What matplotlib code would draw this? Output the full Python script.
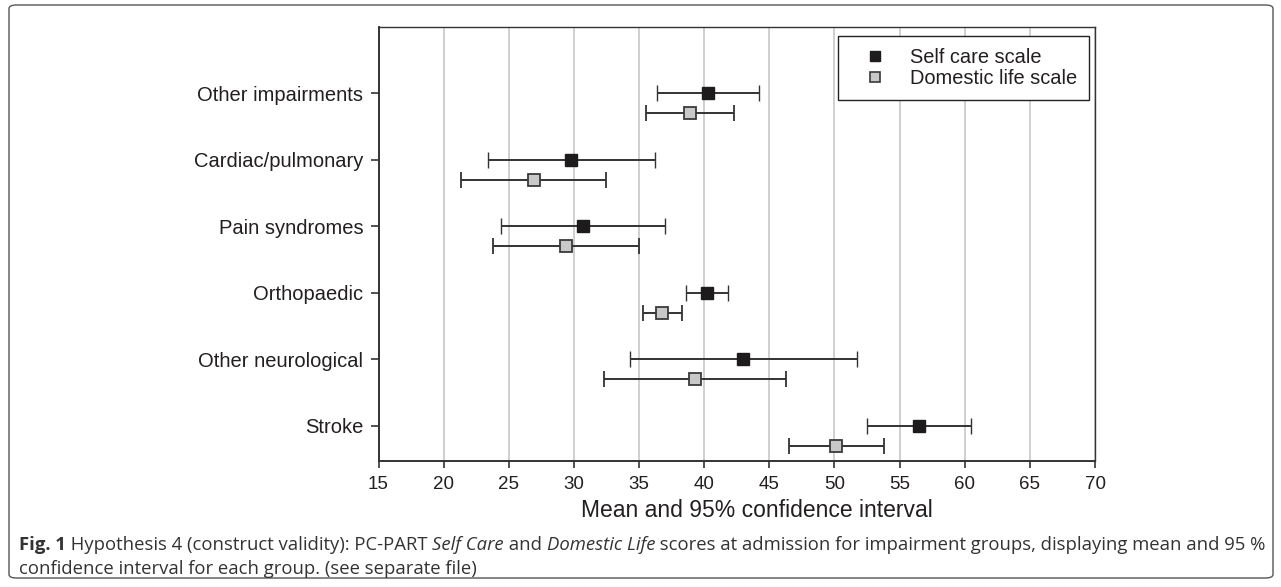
import numpy as np
import matplotlib
matplotlib.use("Agg")
import matplotlib.pyplot as plt
from matplotlib.lines import Line2D
from matplotlib.patches import FancyBboxPatch

# Данные (снизу вверх по оси y)
categories = ["Stroke", "Other neurological", "Orthopaedic",
              "Pain syndromes", "Cardiac/pulmonary", "Other impairments"]
self_mean = [56.5, 43.0, 40.2, 30.7, 29.8, 40.3]
self_lo = [52.5, 34.3, 38.6, 24.4, 23.4, 36.4]
self_hi = [60.5, 51.7, 41.8, 37.0, 36.2, 44.2]
dom_mean = [50.1, 39.3, 36.8, 29.4, 26.9, 38.9]
dom_lo = [46.5, 32.3, 35.3, 23.8, 21.3, 35.5]
dom_hi = [53.8, 46.3, 38.3, 35.0, 32.5, 42.3]
x_ticks = [15, 20, 25, 30, 35, 40, 45, 50, 55, 60, 65, 70]
legend_labels = ["Self care scale", "Domestic life scale"]
xlabel = "Mean and 95% confidence interval"

W, H = 1281, 587
fig = plt.figure(figsize=(W / 100, H / 100), dpi=100)
plt.rcParams['font.family'] = ['Liberation Sans', 'DejaVu Sans']

ink = "#231f20"
ax = fig.add_axes([378.5 / W, 1 - 461 / H, (1095 - 378.5) / W, (461 - 27) / H])

y = np.arange(1, len(categories) + 1)
offset = 0.3

sm = np.array(self_mean)
dm = np.array(dom_mean)
ax.errorbar(sm, y, xerr=[sm - np.array(self_lo), np.array(self_hi) - sm],
            fmt='s', ms=8, mfc="#1e1b1c", mec="#1e1b1c", mew=1.0,
            ecolor="#333333", elinewidth=1.4, capsize=6, capthick=1.4, zorder=3)
ax.errorbar(dm, y - offset, xerr=[dm - np.array(dom_lo), np.array(dom_hi) - dm],
            fmt='s', ms=8, mfc="#c8c8c8", mec="#3a3a3a", mew=1.3,
            ecolor="#333333", elinewidth=1.4, capsize=6, capthick=1.4, zorder=3)

ax.set_xlim(15, 70)
ax.set_ylim(0.47, 7.0)
ax.set_xticks(x_ticks)
ax.set_xticklabels([str(t) for t in x_ticks], fontsize=13.5, color=ink)
ax.set_yticks(y)
ax.set_yticklabels(categories, fontsize=14.5, color=ink)
ax.tick_params(axis='x', length=5, width=1.2, pad=6, color="#333333")
ax.tick_params(axis='y', length=6, width=1.2, pad=5, color="#333333")
ax.grid(axis='x', color="#cccccc", linewidth=1.3)
ax.set_axisbelow(True)
for side in ['left', 'bottom']:
    ax.spines[side].set_linewidth(1.4)
    ax.spines[side].set_color("#333333")
for side in ['top', 'right']:
    ax.spines[side].set_linewidth(1.0)
    ax.spines[side].set_color("#333333")

ax.set_xlabel(xlabel, fontsize=16.5, color=ink)
ax.xaxis.set_label_coords(0.528, -0.087)

handles = [
    Line2D([], [], ls='none', marker='s', ms=6.5, mfc="#1e1b1c", mec="#1e1b1c"),
    Line2D([], [], ls='none', marker='s', ms=6.5, mfc="#c8c8c8", mec="#3a3a3a", mew=1.2),
]
leg = ax.legend(handles, legend_labels, loc='upper right',
                bbox_to_anchor=(0.9916, 0.979), borderaxespad=0,
                fontsize=14.4, handlelength=2.5, handletextpad=0.5,
                borderpad=0.6, labelspacing=0.08, fancybox=False,
                framealpha=1, edgecolor="#222222")
leg.get_frame().set_linewidth(1.0)
for t in leg.get_texts():
    t.set_color(ink)

# Рамка вокруг рисунка
frame = FancyBboxPatch((9 / W, 9 / H), (1273 - 9) / W, (582 - 9) / H,
                       boxstyle="round,pad=0,rounding_size=0.006",
                       transform=fig.transFigure, fill=False,
                       edgecolor="#555555", linewidth=1.0)
fig.patches.append(frame)

# Подпись с разными начертаниями
cap_font = ['Open Sans', 'DejaVu Sans']
cap_size = 13.3
line1 = [("Fig. 1", 'normal', 'bold'),
         (" Hypothesis 4 (construct validity): PC-PART ", 'normal', 'normal'),
         ("Self Care", 'italic', 'normal'),
         (" and ", 'normal', 'normal'),
         ("Domestic Life", 'italic', 'normal'),
         (" scores at admission for impairment groups, displaying mean and 95 %", 'normal', 'normal')]
line2 = [("confidence interval for each group. (see separate file)", 'normal', 'normal')]

renderer = fig.canvas.get_renderer()
for parts, ypix in [(line1, 545), (line2, 569)]:
    xpix = 19
    for txt, style, weight in parts:
        t = fig.text(xpix / W, 1 - ypix / H, txt, fontsize=cap_size, family=cap_font,
                     style=style, weight=weight, color="#333333", va='center', ha='left')
        bb = t.get_window_extent(renderer=renderer)
        xpix += bb.width

fig.savefig("out.png", dpi=100)
